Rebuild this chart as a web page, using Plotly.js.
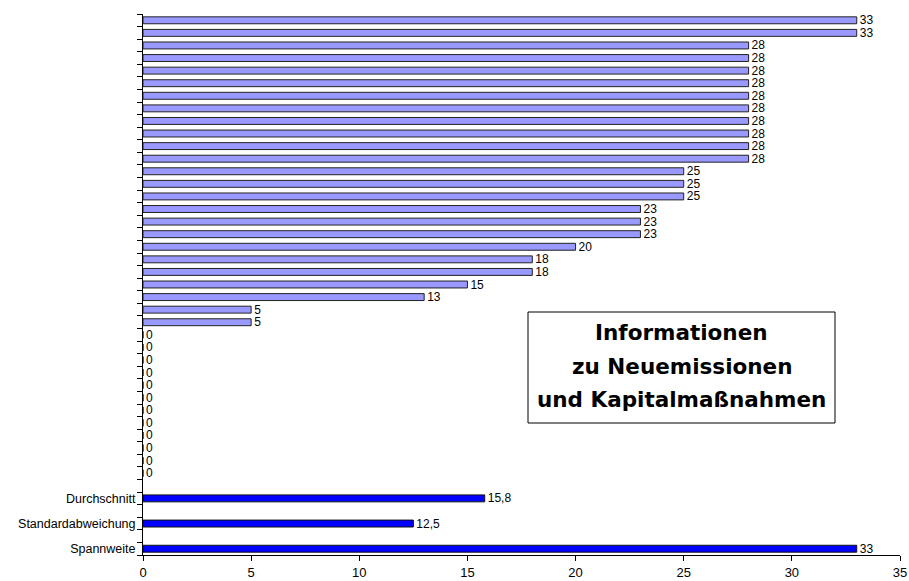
<!DOCTYPE html>
<html>
<head>
<meta charset="utf-8">
<script src="https://cdn.plot.ly/plotly-3.0.1.min.js"></script>
<style>
  html, body { margin: 0; padding: 0; background: #ffffff; }
  #chart { width: 909px; height: 581px; }
</style>
</head>
<body>
<div id="chart"></div>
<script>
// Individual scores, listed from top to bottom
const rankedValues = [33, 33, 28, 28, 28, 28, 28, 28, 28, 28, 28, 28, 25, 25, 25, 23, 23, 23,
                      20, 18, 18, 15, 13, 5, 5, 0, 0, 0, 0, 0, 0, 0, 0, 0, 0, 0, 0];
// Summary statistics
const statLabels = ["Durchschnitt", "Standardabweichung", "Spannweite"];
const statValues = [15.8, 12.5, 33];
const statText = ["15,8", "12,5", "33"];
// Value axis ticks
const xTicks = [0, 5, 10, 15, 20, 25, 30, 35];
// Caption lines
const boxLines = ["Informationen", "zu Neuemissionen", "und Kapitalmaßnahmen"];

// Category slots: one per score, then an empty slot before each statistic
const rankedIds = rankedValues.map((v, i) => "s" + i);
const allIds = [];
const allText = [];
rankedIds.forEach(id => { allIds.push(id); allText.push(""); });
const statIds = [];
statLabels.forEach((lab, i) => {
  allIds.push("g" + i); allText.push("");
  const id = "k" + i;
  statIds.push(id);
  allIds.push(id); allText.push(lab);
});

const font = "Liberation Sans, Arial, sans-serif";

const traces = [
  {
    type: "bar", orientation: "h",
    x: rankedValues, y: rankedIds,
    text: rankedValues.map(v => String(v)),
    textposition: "outside", cliponaxis: false, constraintext: "none",
    textfont: { family: font, size: 12, color: "#000" },
    marker: { color: "#9999ff", line: { color: "#222222", width: 1 } },
    width: 0.55, hoverinfo: "skip"
  },
  {
    type: "bar", orientation: "h",
    x: statValues, y: statIds,
    text: statText,
    textposition: "outside", cliponaxis: false, constraintext: "none",
    textfont: { family: font, size: 12, color: "#000" },
    marker: { color: "#0000ff", line: { color: "#111111", width: 1 } },
    width: 0.55, hoverinfo: "skip"
  }
];

const px2x = p => (p - 143) / 757;
const px2y = p => (555 - p) / 541;
const lineY = [332, 366, 400];

const layout = {
  width: 909, height: 581,
  margin: { l: 143, r: 9, t: 14, b: 26 },
  paper_bgcolor: "#ffffff", plot_bgcolor: "#ffffff",
  showlegend: false, barmode: "overlay",
  font: { family: font, size: 12, color: "#000" },
  xaxis: {
    range: [0, 35], tickmode: "array", tickvals: xTicks,
    ticks: "outside", ticklen: 5, tickcolor: "#000",
    showline: true, linecolor: "#000", linewidth: 1,
    showgrid: false, zeroline: false,
    tickfont: { family: font, size: 13, color: "#000" }
  },
  yaxis: {
    type: "category", categoryorder: "array", categoryarray: allIds,
    range: [allIds.length - 0.5, -0.5],
    tickmode: "array", tickvals: allIds, ticktext: allText,
    tickson: "boundaries", ticks: "outside", ticklen: 5, tickcolor: "#000",
    ticklabelstandoff: 4,
    showline: true, linecolor: "#000", linewidth: 1,
    showgrid: false, zeroline: false,
    tickfont: { family: font, size: 12.5, color: "#000" }
  },
  shapes: [{
    type: "rect", xref: "paper", yref: "paper",
    x0: px2x(528), x1: px2x(835), y0: px2y(423), y1: px2y(312),
    line: { color: "#000", width: 1 }, fillcolor: "#ffffff", layer: "above"
  }],
  annotations: boxLines.map((t, i) => ({
    xref: "paper", yref: "paper", x: px2x(681.5), y: px2y(lineY[i]),
    xanchor: "center", yanchor: "middle", showarrow: false, text: t,
    font: { family: "DejaVu Sans, sans-serif", size: 21.5, color: "#000", weight: "bold" }
  }))
};

Plotly.newPlot("chart", traces, layout, { displayModeBar: false, staticPlot: true });
</script>
</body>
</html>
